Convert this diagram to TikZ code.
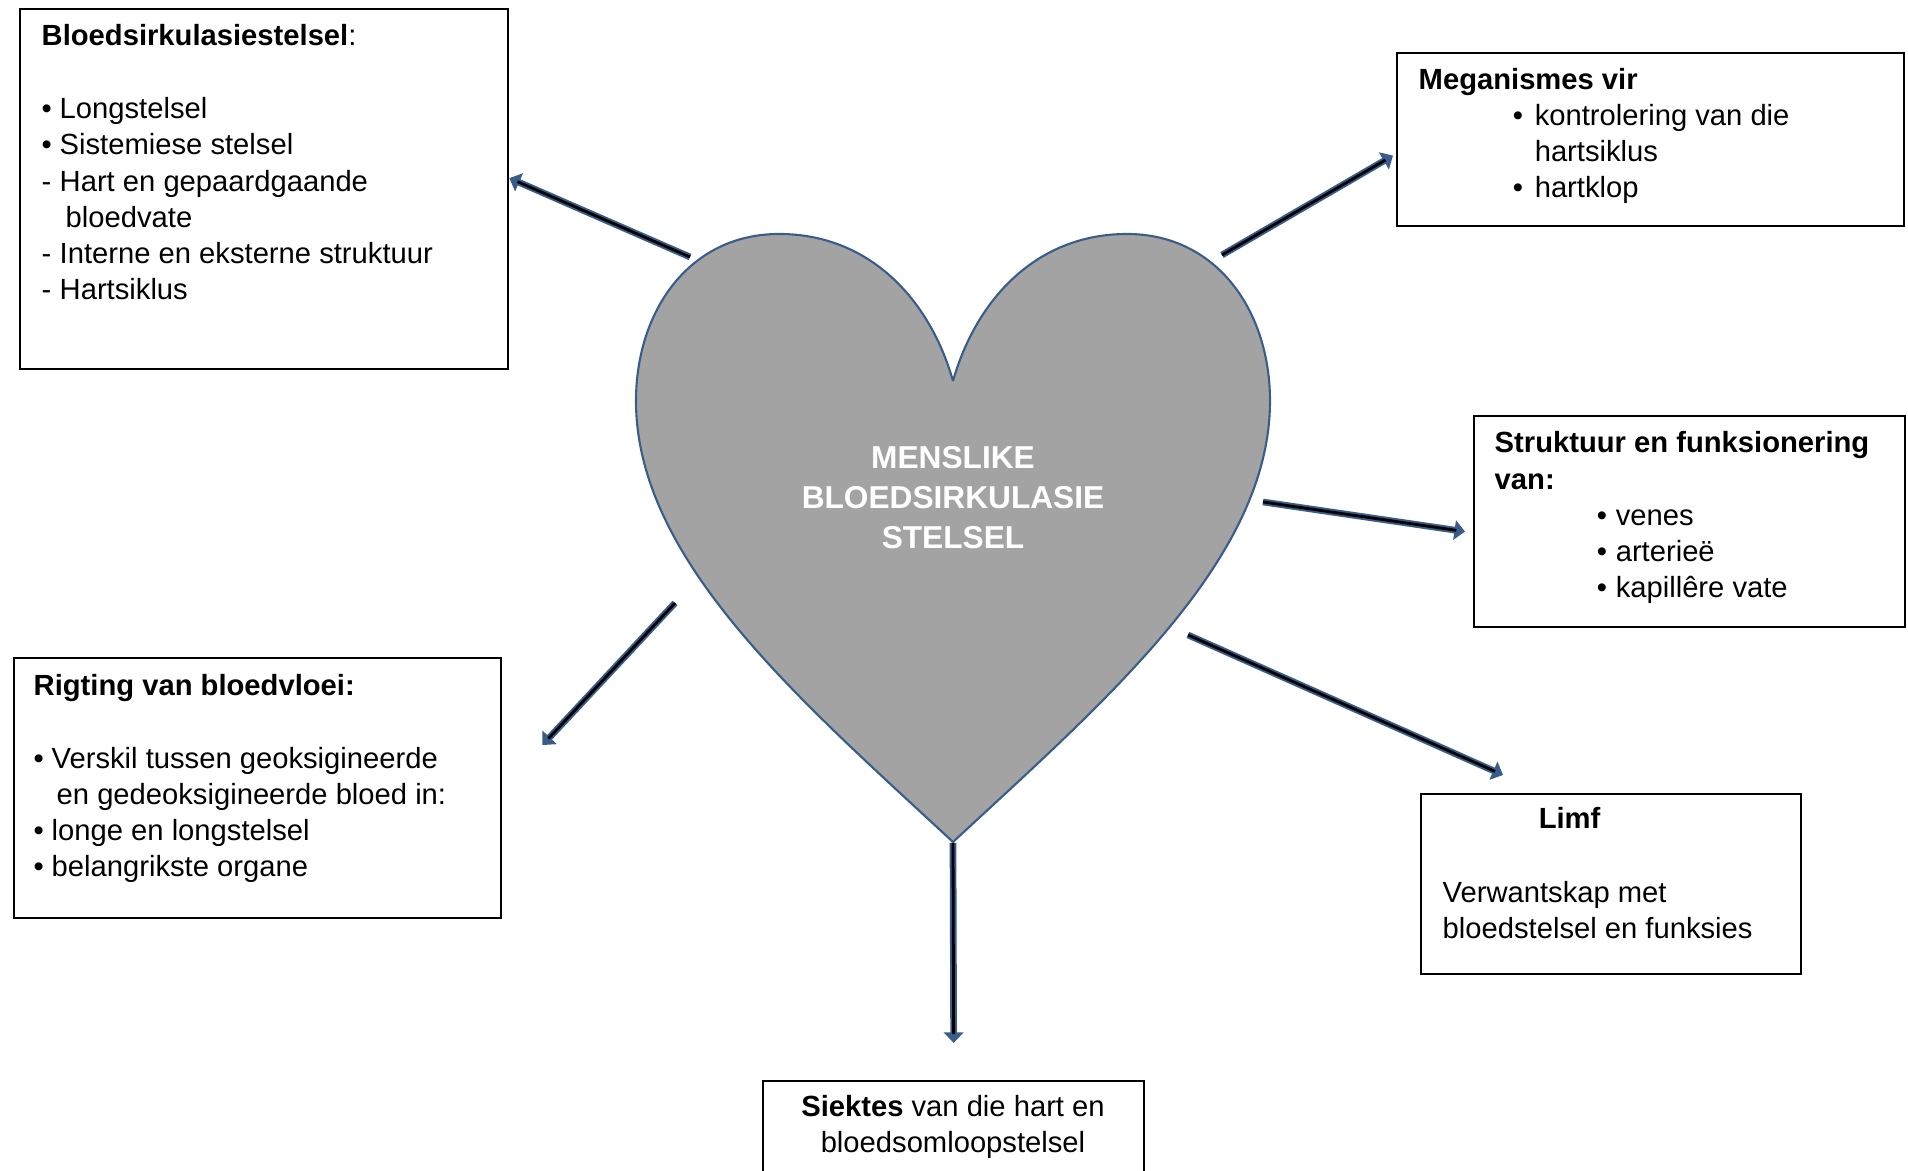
\documentclass[tikz,border=0pt]{standalone}
\usepackage{fontspec}
\setmainfont{Liberation Sans}
\usetikzlibrary{arrows.meta}

\definecolor{bordbleu}{HTML}{385D8A}
\definecolor{gris}{HTML}{A3A3A3}

\newcommand{\puce}{\makebox[1.8mm][l]{\textbullet}}
\newcommand{\tiret}{\makebox[1.8mm][l]{-}}

\tikzset{
  boite/.style={draw=black, line width=0.6pt, inner sep=0pt, anchor=north west},
  texte/.style={anchor=base west, align=left, inner sep=0pt, font=\fontsize{8.3}{10.33}\selectfont},
  fleche/.style={draw=bordbleu, line width=1.9pt, -{Triangle[length=3pt,width=5.5pt]},
    postaction={draw=black, line width=0.8pt, -, shorten >=2.5pt}}
}

\begin{document}
\begin{tikzpicture}[x=0.01cm, y=-0.01cm]
    \useasboundingbox (0,0) rectangle (1908,1171);

    % Coeur
    \draw[bordbleu, line width=0.6pt, fill=gris] (953,381)
      .. controls (930,300) and (870,234) .. (779,234)
      .. controls (690,234) and (636,310) .. (636,401)
      .. controls (636,560) and (800,700) .. (953,842)
      .. controls (1106,700) and (1270,560) .. (1270,401)
      .. controls (1270,310) and (1216,234) .. (1127,234)
      .. controls (1036,234) and (976,300) .. (953,381);
    \node[anchor=base, align=center, inner sep=0pt, text=white,
      font=\fontsize{9}{11.5}\selectfont\bfseries] (titre) at (953,549)
      {MENSLIKE\\BLOEDSIRKULASIE\\STELSEL};

    % Boites
    \node[boite, minimum width=48.8mm, minimum height=36mm] (sirk) at (19,8) {};
    \node[boite, minimum width=50.7mm, minimum height=17.3mm] (meg) at (1396,52) {};
    \node[boite, minimum width=43.1mm, minimum height=21.1mm] (struk) at (1473,415) {};
    \node[boite, minimum width=38mm, minimum height=18mm] (limf) at (1420,793) {};
    \node[boite, minimum width=38.1mm, minimum height=12mm] (siek) at (762,1080) {};
    \node[boite, minimum width=48.7mm, minimum height=26mm] (rig) at (13,657) {};

    % Textes (ancre = ligne de base de la derniere ligne)
    \node[texte] (sirktxt) at (41,300) {\textbf{Bloedsirkulasiestelsel}:\\[10.33pt]
      \puce Longstelsel\\
      \puce Sistemiese stelsel\\
      \tiret Hart en gepaardgaande\\
      \hspace*{2.4mm}bloedvate\\
      \tiret Interne en eksterne struktuur\\
      \tiret Hartsiklus};
    \node[texte] (megtxt) at (1418,198) {\textbf{Meganismes vir}\\
      \hspace*{9.4mm}\makebox[2.2mm][l]{\textbullet}kontrolering van die\\
      \hspace*{11.6mm}hartsiklus\\
      \hspace*{9.4mm}\makebox[2.2mm][l]{\textbullet}hartklop};
    \node[texte] (struktxt) at (1494,598) {\textbf{Struktuur en funksionering}\\
      \textbf{van:}\\
      \hspace*{10.2mm}\makebox[1.9mm][l]{\textbullet}venes\\
      \hspace*{10.2mm}\makebox[1.9mm][l]{\textbullet}arterieë\\
      \hspace*{10.2mm}\makebox[1.9mm][l]{\textbullet}kapillêre vate};
    \node[texte] (limftxt) at (1442,939) {\hspace*{9.6mm}\textbf{Limf}\\[10.7pt]
      Verwantskap met\\
      bloedstelsel en funksies};
    \node[texte, anchor=base, align=center] (siektxt) at (953,1153)
      {\textbf{Siektes} van die hart en\\bloedsomloopstelsel};
    \node[texte] (rigtxt) at (33,877) {\textbf{Rigting van bloedvloei:}\\[10.33pt]
      \puce Verskil tussen geoksigineerde\\
      \hspace*{2.3mm}en gedeoksigineerde bloed in:\\
      \puce longe en longstelsel\\
      \puce belangrikste organe};

    % Fleches depuis le coeur
    \coordinate (h1) at (690,257);
    \coordinate (h2) at (1222,255);
    \coordinate (h3) at (1263,502);
    \coordinate (h4) at (1188,635);
    \coordinate (h5) at (675,603);
    \coordinate (h6) at (953,843);
    \draw[fleche] (h1) -- ([yshift=1.1mm]sirk.east);
    \draw[fleche] (h2) -- ([xshift=-0.3mm,yshift=-1.6mm]meg.west);
    \draw[fleche] (h3) -- ([xshift=-0.8mm,yshift=-1.0mm]struk.west);
    \draw[fleche] (h4) -- ([xshift=8.3mm,yshift=1.8mm]limf.north west);
    \draw[fleche] (h5) -- ([xshift=4mm,yshift=-8.8mm]rig.north east);
    \draw[fleche] (h6) -- ([yshift=3.7mm]siek.north);
\end{tikzpicture}
\end{document}
